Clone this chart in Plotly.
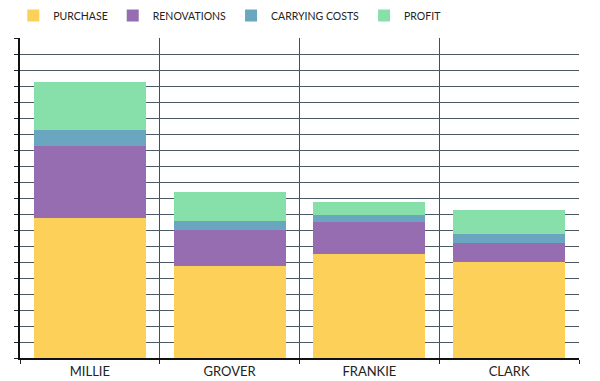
import plotly.graph_objects as go

names = ["MILLIE", "GROVER", "FRANKIE", "CLARK"]
purchase = [87.5, 57.5, 64.8, 60.0]
renovations = [45.0, 22.7, 20.0, 12.1]
carrying = [10.0, 5.6, 4.6, 5.2]
profit = [30.0, 18.0, 7.9, 15.2]

series = [
    ("PURCHASE", purchase, "#FDD05A"),
    ("RENOVATIONS", renovations, "#956DB0"),
    ("CARRYING COSTS", carrying, "#6AA6C0"),
    ("PROFIT", profit, "#87E0AA"),
]

fig = go.Figure()
for name, vals, col in series:
    fig.add_trace(go.Bar(x=names, y=vals, name=name, marker=dict(color=col, line=dict(width=0))))

fig.update_layout(
    barmode="stack",
    bargap=0.2,
    width=600, height=381,
    margin=dict(l=20, r=21, t=38, b=23, autoexpand=False),
    plot_bgcolor="white",
    paper_bgcolor="white",
    font=dict(family="Lato", size=12, color="#222"),
    legend=dict(orientation="h", x=-0.012, xanchor="left", y=1.07, yanchor="middle",
                font=dict(family="Lato", size=10.5), itemwidth=30,
                traceorder="normal", tracegroupgap=0, bgcolor="rgba(0,0,0,0)"),
    xaxis=dict(type="category", tickson="boundaries", showgrid=True, gridcolor="#3c5060",
               gridwidth=1, ticks="outside", ticklen=4, tickcolor="#222",
               showline=True, linecolor="#111", linewidth=2, mirror=False,
               tickfont=dict(size=13)),
    yaxis=dict(range=[0, 200], dtick=10, showgrid=True, gridcolor="#4a5a66", gridwidth=1,
               showticklabels=False, ticks="outside", ticklen=4, tickcolor="#222",
               showline=True, linecolor="#111", linewidth=2, zeroline=False),
)
fig.write_html("out.html", config={"displayModeBar": False},
               post_script="document.body.style.margin='0';document.body.style.overflow='hidden';")
